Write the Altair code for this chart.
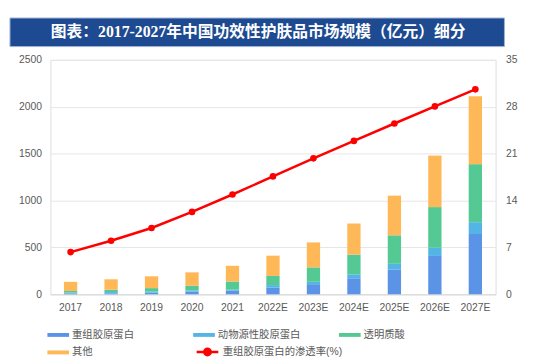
import altair as alt
import pandas as pd

years = ["2017", "2018", "2019", "2020", "2021", "2022E", "2023E", "2024E", "2025E", "2026E", "2027E"]
recombinant = [6, 10, 18, 28, 38, 70, 108, 171, 262, 409, 643]
animal = [12, 14, 10, 14, 11, 28, 25, 42, 63, 87, 126]
hyaluronic = [17, 25, 38, 49, 87, 98, 154, 210, 304, 434, 619]
other = [98, 111, 126, 143, 168, 216, 266, 332, 423, 549, 724]
rate = [6.3, 8.0, 9.9, 12.3, 14.9, 17.6, 20.3, 22.9, 25.5, 28.05, 30.6]

series = ["重组胶原蛋白", "动物源性胶原蛋白", "透明质酸", "其他"]
colors = ["#5b94e6", "#55b4e6", "#55c994", "#ffb857"]
line_name = "重组胶原蛋白的渗透率(%)"
title_text = "图表：2017-2027年中国功效性护肤品市场规模（亿元）细分"
left_ticks = [0, 500, 1000, 1500, 2000, 2500]
right_ticks = [0, 7, 14, 21, 28, 35]

FONT = "Liberation Sans, Noto Sans CJK SC"
GRAY = "#595959"

rows = []
for s_i, (name, vals) in enumerate(zip(series, [recombinant, animal, hyaluronic, other])):
    for y, v in zip(years, vals):
        rows.append({"year": y, "series": name, "value": v, "ord": s_i})
bars_df = pd.DataFrame(rows)
rate_df = pd.DataFrame({"year": years, "rate": rate, "name": [line_name] * len(years)})
banner_df = pd.DataFrame({"t": [title_text]})

x_enc = alt.X(
    "year:N", sort=years,
    scale=alt.Scale(paddingInner=0, paddingOuter=0),
    axis=alt.Axis(title=None, labelAngle=0, ticks=False, domainColor="#d9d9d9",
                  labelPadding=8, labelColor=GRAY, labelFontSize=10.5, labelFont=FONT),
)

bars = alt.Chart(bars_df).mark_bar(size=13.5).encode(
    x=x_enc,
    y=alt.Y("value:Q", stack="zero", scale=alt.Scale(domain=[0, 2500]),
            axis=alt.Axis(title=None, values=left_ticks, format="d", grid=True, gridColor="#e6e6e6",
                          domain=False, ticks=False, labelPadding=9, labelColor=GRAY,
                          labelFontSize=10.5, labelFont=FONT)),
    color=alt.Color("series:N", scale=alt.Scale(domain=series, range=colors),
                    legend=alt.Legend(orient="none", legendX=-3, legendY=268, columns=3,
                                      direction="horizontal", values=series,
                                      gridAlign="all", columnPadding=39, rowPadding=1,
                                      symbolType="M-1,-0.18L1,-0.18L1,0.18L-1,0.18Z",
                                      symbolSize=484, symbolStrokeWidth=0, labelOffset=3,
                                      labelFontSize=10.5, labelColor=GRAY, labelFont=FONT,
                                      title=None, padding=0)),
    order=alt.Order("ord:Q"),
)

line = alt.Chart(rate_df).mark_line(strokeWidth=2.5).encode(
    x=x_enc,
    y=alt.Y("rate:Q", scale=alt.Scale(domain=[0, 35]),
            axis=alt.Axis(orient="right", title=None, values=right_ticks, grid=False,
                          domain=False, ticks=False, labelPadding=10, labelColor=GRAY,
                          labelFontSize=10.5, labelFont=FONT)),
    stroke=alt.Stroke("name:N", scale=alt.Scale(range=["#ff0000"]),
                      legend=alt.Legend(orient="none", legendX=147, legendY=284,
                                        symbolType="M-1,0L1,0M0.3,0A0.3,0.3 0 1,1 -0.3,0A0.3,0.3 0 1,1 0.3,0Z",
                                        symbolSize=484, symbolStrokeWidth=2.5,
                                        symbolFillColor="#ff0000", labelOffset=3,
                                        labelFontSize=10.5, labelColor=GRAY, labelFont=FONT,
                                        title=None, padding=0)),
)

points = alt.Chart(rate_df).mark_circle(size=45, color="#ff0000", opacity=1).encode(
    x=x_enc,
    y=alt.Y("rate:Q", scale=alt.Scale(domain=[0, 35]), axis=None),
)

banner = alt.Chart(banner_df).mark_rect(color="#1d4a90", stroke="#9fb3d6", strokeWidth=1).encode(
    x=alt.value(-41), x2=alt.value(461), y=alt.value(-42.5), y2=alt.value(-13.5)
)
banner_text = alt.Chart(banner_df).mark_text(
    color="white", fontSize=16, fontWeight="bold", font="Liberation Serif, Noto Sans CJK SC",
    align="center", baseline="middle"
).encode(text="t:N", x=alt.value(211), y=alt.value(-28))

chart = alt.layer(bars, line, points, banner, banner_text).resolve_scale(
    y="independent"
).properties(
    width=452, height=238,
    autosize=alt.AutoSizeParams(type="none"),
    padding={"left": 43, "top": 50, "right": 39, "bottom": 61},
).configure_view(stroke=None).configure(background="white")

chart.save("out.html", embed_options={"renderer": "svg", "actions": False})
